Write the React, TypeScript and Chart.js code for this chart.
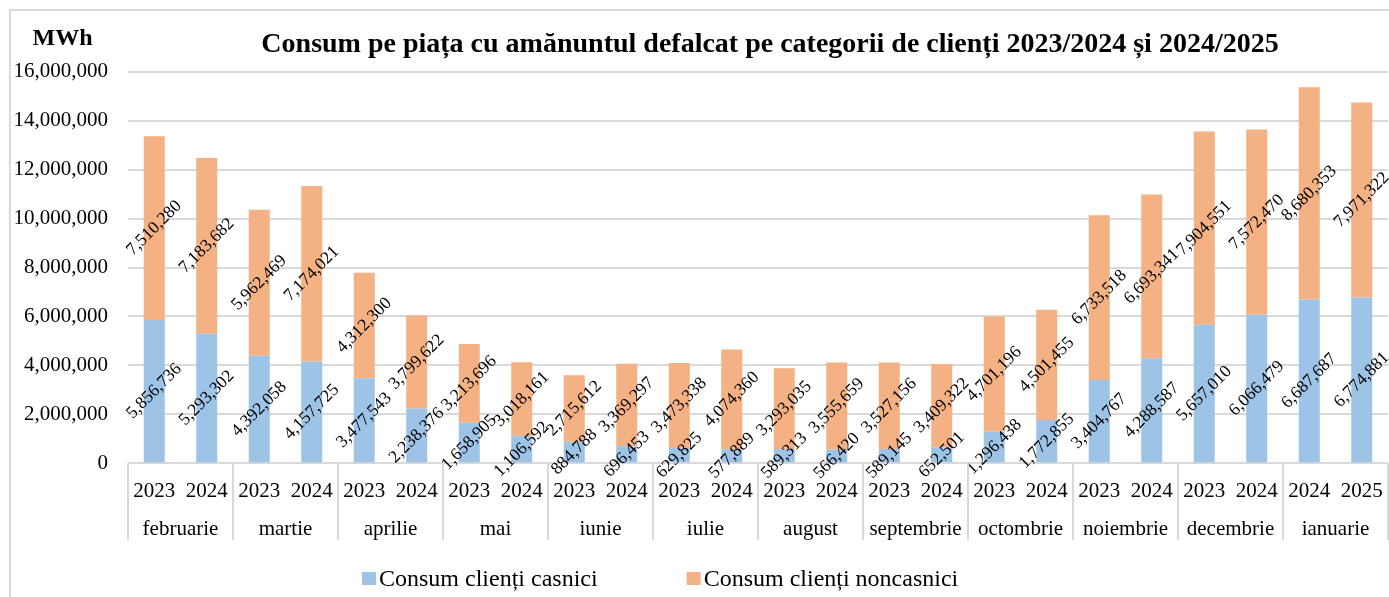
import React, { useEffect, useRef } from 'react';
import { Chart, registerables } from 'chart.js';

Chart.register(...registerables);

const FONT = "'Liberation Serif', 'Times New Roman', serif";

const titleText = 'Consum pe piața cu amănuntul defalcat pe categorii de clienți 2023/2024 și 2024/2025';
const unitText = 'MWh';

const years = [
  '2023', '2024', '2023', '2024', '2023', '2024', '2023', '2024',
  '2023', '2024', '2023', '2024', '2023', '2024', '2023', '2024',
  '2023', '2024', '2023', '2024', '2023', '2024', '2024', '2025',
];

const months = [
  'februarie', 'martie', 'aprilie', 'mai', 'iunie', 'iulie',
  'august', 'septembrie', 'octombrie', 'noiembrie', 'decembrie', 'ianuarie',
];

const casnici = [
  5856736, 5293302, 4392058, 4157725, 3477543, 2238376, 1658905, 1106592,
  884788, 696453, 629825, 577889, 589313, 566420, 589145, 652501,
  1296438, 1772855, 3404767, 4288587, 5657010, 6066479, 6687687, 6774881,
];

const noncasnici = [
  7510280, 7183682, 5962469, 7174021, 4312300, 3799622, 3213696, 3018161,
  2715612, 3369297, 3473338, 4074360, 3293035, 3555659, 3527156, 3409322,
  4701196, 4501455, 6733518, 6693341, 7904551, 7572470, 8680353, 7971322,
];

const seriesNames = ['Consum clienți casnici', 'Consum clienți noncasnici'];
const seriesColors = ['#9DC3E6', '#F4B183'];

const yMin = 0;
const yMax = 16000000;
const yStep = 2000000;

const GRID = '#d9d9d9';

const overlayPlugin = {
  id: 'overlay',
  afterDatasetsDraw(chart: any) {
    const ctx = chart.ctx;
    ctx.save();
    ctx.fillStyle = '#000';
    ctx.font = `17.5px ${FONT}`;
    ctx.textAlign = 'center';
    ctx.textBaseline = 'middle';
    chart.data.datasets.forEach((ds: any, di: number) => {
      const meta = chart.getDatasetMeta(di);
      meta.data.forEach((el: any, i: number) => {
        const { x, y, base } = el.getProps(['x', 'y', 'base'], true);
        ctx.save();
        ctx.translate(x, (y + base) / 2);
        ctx.rotate(-Math.PI / 4);
        ctx.fillText(Number(ds.data[i]).toLocaleString('en-US'), 0, 0);
        ctx.restore();
      });
    });
    ctx.restore();
  },
  afterDraw(chart: any) {
    const ctx = chart.ctx;
    const area = chart.chartArea;
    const xs = chart.scales.x;
    ctx.save();

    // Title
    ctx.fillStyle = '#000';
    ctx.textBaseline = 'alphabetic';
    ctx.textAlign = 'center';
    ctx.font = `bold 28px ${FONT}`;
    ctx.fillText(titleText, 759, 41);
    ctx.font = `bold 24px ${FONT}`;
    ctx.fillText(unitText, 51.5, 34);

    // Separators
    ctx.strokeStyle = GRID;
    ctx.lineWidth = 2;
    const sepBottom = area.bottom + 76.7;
    const bounds: number[] = [];
    for (let k = 0; k <= months.length; k++) {
      let bx: number;
      if (k === 0) bx = area.left;
      else if (k === months.length) bx = area.right;
      else bx = (xs.getPixelForValue(2 * k - 1) + xs.getPixelForValue(2 * k)) / 2;
      bounds.push(bx);
      ctx.beginPath();
      ctx.moveTo(bx, area.bottom);
      ctx.lineTo(bx, sepBottom);
      ctx.stroke();
    }

    // Year labels
    ctx.font = `21px ${FONT}`;
    ctx.fillStyle = '#000';
    ctx.textAlign = 'center';
    years.forEach((yl, i) => {
      ctx.fillText(yl, xs.getPixelForValue(i), area.bottom + 33.4);
    });
    // Month labels
    months.forEach((m, k) => {
      ctx.fillText(m, (bounds[k] + bounds[k + 1]) / 2, area.bottom + 71.7);
    });

    // Legend
    ctx.font = `24px ${FONT}`;
    ctx.textAlign = 'left';
    let lx = 351;
    seriesNames.forEach((name, i) => {
      ctx.fillStyle = seriesColors[i];
      ctx.fillRect(lx, 561, 14, 13);
      ctx.fillStyle = '#000';
      ctx.fillText(name, lx + 17, 575);
      lx = lx + 17 + ctx.measureText(name).width + 89;
    });

    ctx.restore();
  },
};

export default function App() {
  const ref = useRef<HTMLCanvasElement | null>(null);

  useEffect(() => {
    if (!ref.current) return;
    const chart = new Chart(ref.current, {
      type: 'bar',
      data: {
        labels: years.map((y, i) => `${months[Math.floor(i / 2)]} ${y}`),
        datasets: [
          {
            label: seriesNames[0],
            data: casnici,
            backgroundColor: seriesColors[0],
            barPercentage: 0.4,
            categoryPercentage: 1.0,
          },
          {
            label: seriesNames[1],
            data: noncasnici,
            backgroundColor: seriesColors[1],
            barPercentage: 0.4,
            categoryPercentage: 1.0,
          },
        ],
      },
      options: {
        responsive: false,
        animation: false,
        devicePixelRatio: 1,
        layout: { padding: { top: 60.7, left: 0, right: 11, bottom: 137.7 } },
        plugins: {
          legend: { display: false },
          title: { display: false },
          tooltip: { enabled: false },
        },
        scales: {
          x: {
            stacked: true,
            display: false,
          },
          y: {
            stacked: true,
            min: yMin,
            max: yMax,
            border: { display: false },
            grid: { color: GRID, lineWidth: 2, drawTicks: false },
            ticks: {
              stepSize: yStep,
              padding: 20,
              color: '#000',
              font: { family: FONT, size: 21 },
              callback: (v: any) => Number(v).toLocaleString('en-US'),
            },
            afterFit: (scale: any) => {
              scale.width = 117;
            },
          },
        },
      },
      plugins: [overlayPlugin],
    });
    return () => chart.destroy();
  }, []);

  return (
    <div
      style={{
        position: 'fixed',
        left: 9,
        top: 9,
        width: 1400,
        height: 600,
        borderLeft: `2px solid ${GRID}`,
        borderTop: `2px solid ${GRID}`,
        overflow: 'hidden',
        background: '#fff',
      }}
    >
      <canvas ref={ref} width={1388} height={590} style={{ display: 'block' }} />
    </div>
  );
}
